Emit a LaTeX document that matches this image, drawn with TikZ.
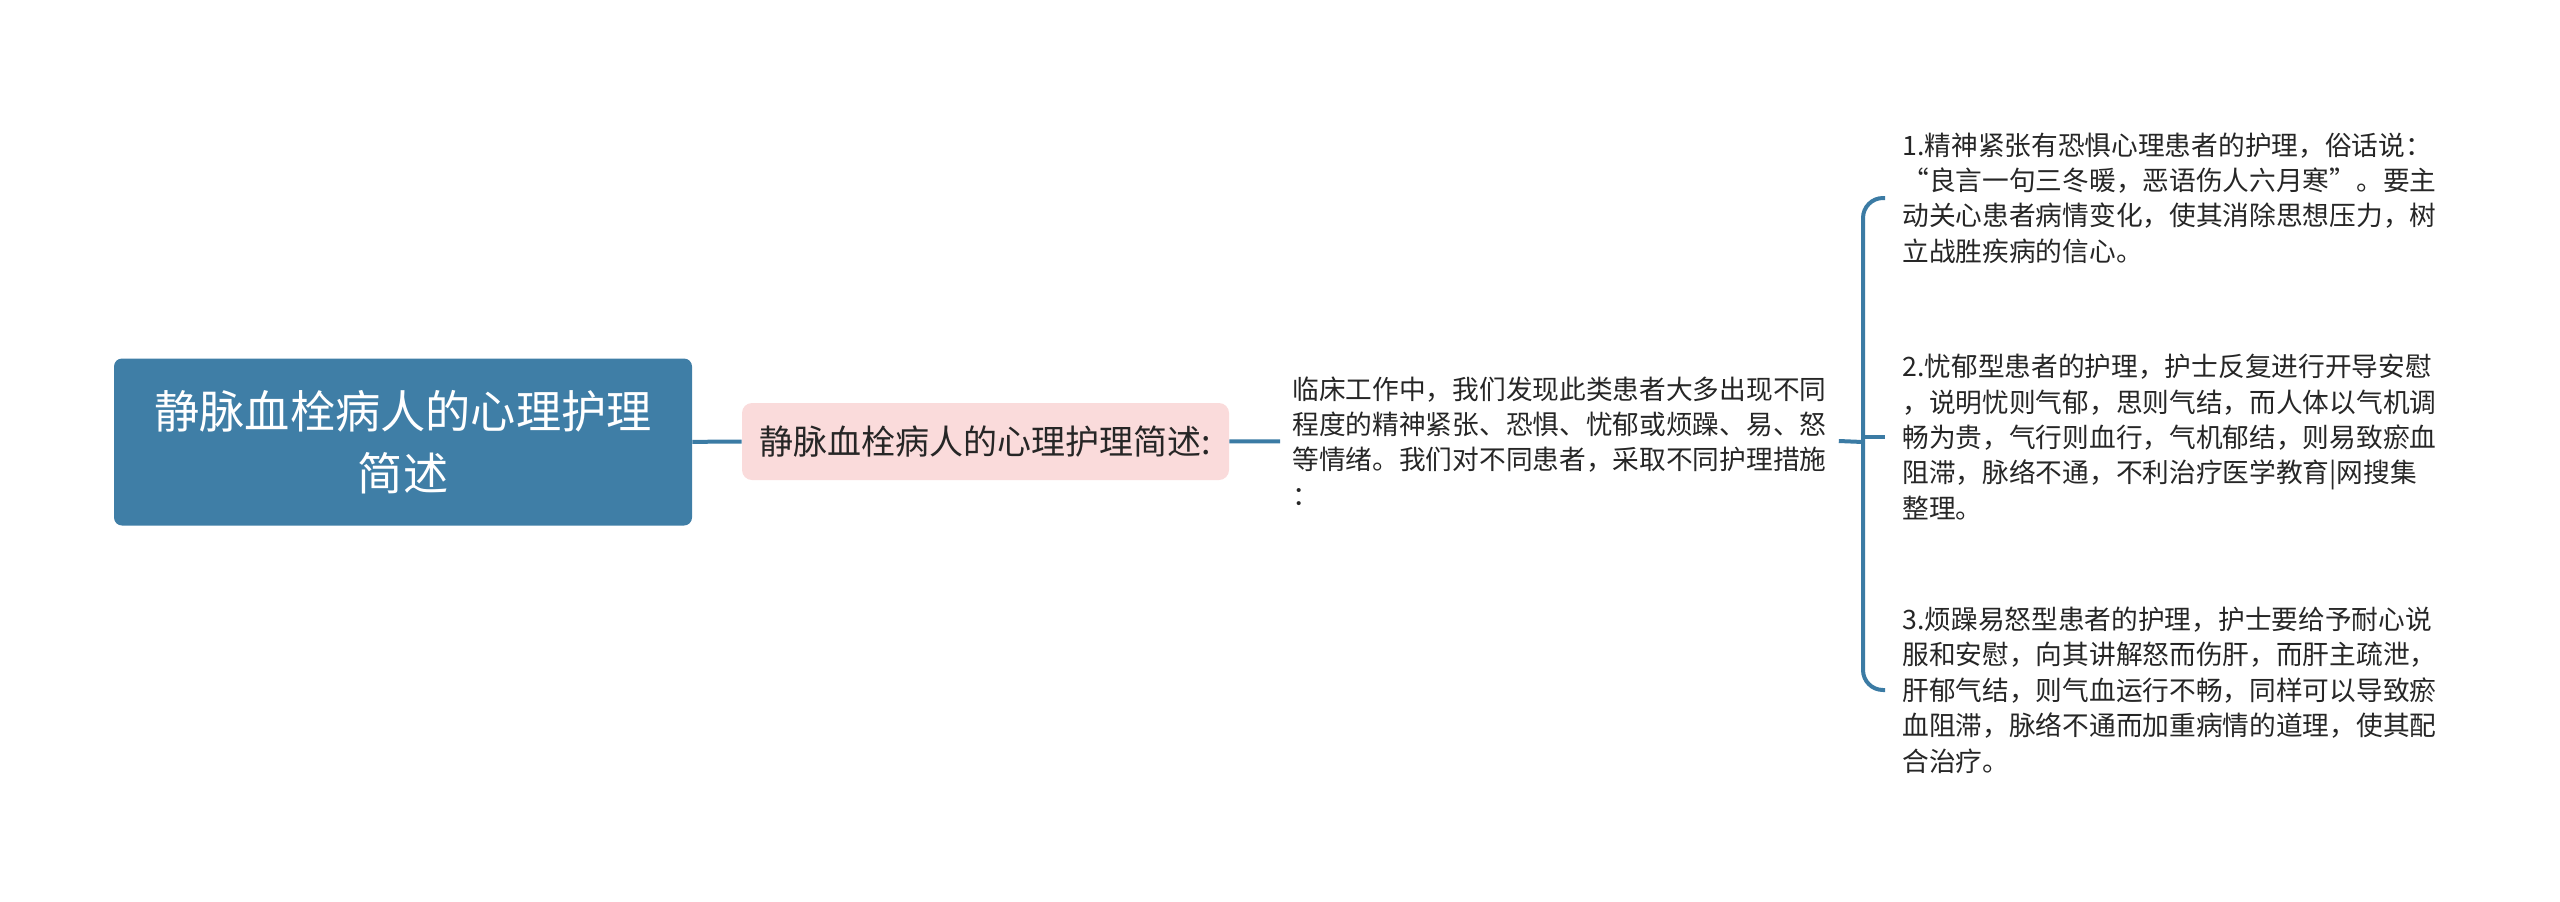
\documentclass[tikz,border=0pt]{standalone}
\usepackage{fontspec}
\setmainfont{Noto Sans CJK SC}
\definecolor{lineblue}{HTML}{3B7BA4}
\definecolor{rootblue}{HTML}{3F7EA6}
\definecolor{pinkfill}{HTML}{FADBDB}
\definecolor{txtgray}{HTML}{262626}

\begin{document}
\begin{tikzpicture}[x=0.5pt,y=-0.5pt,
    line/.style={draw=lineblue, line width=2pt},
    rootbox/.style={fill=rootblue, rounded corners=4pt, text=white, align=center,
        minimum width=289pt, minimum height=83.5pt, font=\fontsize{22.6}{31}\selectfont},
    subbox/.style={fill=pinkfill, rounded corners=5pt, text=txtgray,
        minimum width=243.5pt, minimum height=38.5pt, font=\fontsize{17}{20}\selectfont},
    desc/.style={text=txtgray, align=left, inner xsep=6pt, inner ysep=0pt,
        font=\fontsize{13.35}{17.7}\selectfont}]
        \useasboundingbox (0,0) rectangle (2560,901);

        %hlavne uzly
        \node[rootbox] (root) at (403,442) {静脉血栓病人的心理护理\\简述};
        \node[subbox] (sub) at (985.5,441.5) {静脉血栓病人的心理护理简述:};
        \node[desc, anchor=west] (desc) at (1280,441) {临床工作中，我们发现此类患者大多出现不同\\程度的精神紧张、恐惧、忧郁或烦躁、易、怒\\等情绪。我们对不同患者，采取不同护理措施\\：};
        \coordinate (fork) at (1863,442);

        %tri body
        \node[desc, anchor=west, inner xsep=8.5pt] (kid1) at (1885,198) {1.精神紧张有恐惧心理患者的护理，俗话说：\\“良言一句三冬暖，恶语伤人六月寒”。要主\\动关心患者病情变化，使其消除思想压力，树\\立战胜疾病的信心。};
        \node[desc, anchor=west, inner xsep=8.5pt] (kid2) at (1885,437) {2.忧郁型患者的护理，护士反复进行开导安慰\\，说明忧则气郁，思则气结，而人体以气机调\\畅为贵，气行则血行，气机郁结，则易致瘀血\\阻滞，脉络不通，不利治疗医学教育|网搜集\\整理。};
        \node[desc, anchor=west, inner xsep=8.5pt] (kid3) at (1885,690) {3.烦躁易怒型患者的护理，护士要给予耐心说\\服和安慰，向其讲解怒而伤肝，而肝主疏泄，\\肝郁气结，则气血运行不畅，同样可以导致瘀\\血阻滞，脉络不通而加重病情的道理，使其配\\合治疗。};

        %spojnice
        \draw[line] (root) -- (sub);
        \draw[line] (sub) -- (desc);
        \draw[line] (desc.east) -- (fork);
        \draw[line, rounded corners=10pt] (kid1.west) -| (fork) |- (kid3.west); %zatvorka
        \draw[line] (fork |- kid2.west) -- (kid2.west);
\end{tikzpicture}
\end{document}
